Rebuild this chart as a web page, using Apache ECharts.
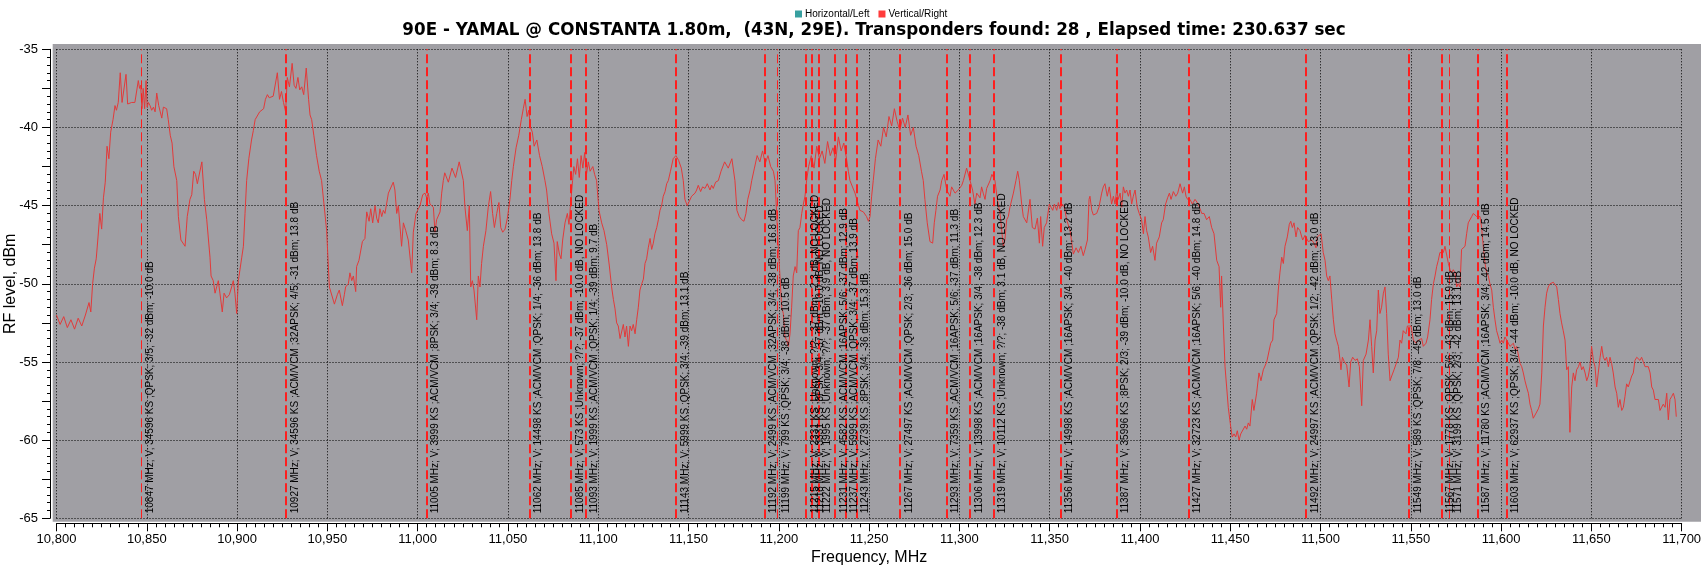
<!DOCTYPE html>
<html>
<head>
<meta charset="utf-8">
<script src="https://cdn.jsdelivr.net/npm/echarts@6/dist/echarts.min.js"></script>
<style>
html,body{margin:0;padding:0;background:#fff;}
#chart{width:1701px;height:567px;}
</style>
</head>
<body>
<div id="chart"></div>
<script>
// ---------------- DATA ----------------
const titleText = '90E - YAMAL @ CONSTANTA 1.80m,  (43N, 29E). Transponders found: 28 , Elapsed time: 230.637 sec';
const legendNames = ['Horizontal/Left', 'Vertical/Right'];
const xAxisName = 'Frequency, MHz';
const yAxisName = 'RF level, dBm';

// transponders found (vertical polarisation)
const txFreq = [10847, 10927, 11005, 11062, 11085, 11093, 11143, 11192, 11199, 11215, 11218, 11222,
  11231, 11237, 11243, 11267, 11293, 11306, 11319, 11356, 11387, 11427, 11492, 11549, 11567, 11571, 11587, 11603];
const txInfo = [
  'V; 34596 KS ;QPSK; 3/5; -32 dBm; -10.0 dB',
  'V; 34596 KS ;ACM/VCM ;32APSK; 4/5; -31 dBm; 13.8 dB',
  'V; 3999 KS ;ACM/VCM ;8PSK; 3/4; -39 dBm; 8.3 dB',
  'V; 14498 KS ;ACM/VCM ;QPSK; 1/4; -36 dBm; 13.8 dB',
  'V; 573 KS ;Unknown; ?/?; -37 dBm; -10.0 dB, NO LOCKED',
  'V; 1999 KS ;ACM/VCM ;QPSK; 1/4; -39 dBm; 9.7 dB',
  'V; 5999 KS ;QPSK; 3/4; -39 dBm; 13.1 dB',
  'V; 2499 KS ;ACM/VCM ;32APSK; 3/4; -38 dBm; 16.8 dB',
  'V; 799 KS ;QPSK; 3/4; -38 dBm; 10.5 dB',
  'V; 2331 KS ;Unknown; ?/?; -37 dBm; -2.3 dB, NO LOCKED',
  'V; 3331 KS ;8PSK; 3/4; -37 dBm; -10.0 dB, NO LOCKED',
  'V; 1995 KS ;Unknown; ?/?; -37 dBm; 3.9 dB, NO LOCKED',
  'V; 4582 KS ;ACM/VCM ;16APSK; 5/6; -37 dBm; 12.9 dB',
  'V; 5999 KS ;ACM/VCM ;QPSK; 3/4; -37 dBm; 13.9 dB',
  'V; 2739 KS ;8PSK; 3/4; -36 dBm; 15.3 dB',
  'V; 27497 KS ;ACM/VCM ;QPSK; 2/3; -36 dBm; 15.0 dB',
  'V; 7359 KS ;ACM/VCM ;16APSK; 5/6; -37 dBm; 11.3 dB',
  'V; 13998 KS ;ACM/VCM ;16APSK; 3/4; -38 dBm; 12.3 dB',
  'V; 10112 KS ;Unknown; ?/?; -38 dBm; 3.1 dB, NO LOCKED',
  'V; 14998 KS ;ACM/VCM ;16APSK; 3/4; -40 dBm; 13.2 dB',
  'V; 35996 KS ;8PSK; 2/3; -39 dBm; -10.0 dB, NO LOCKED',
  'V; 32723 KS ;ACM/VCM ;16APSK; 5/6; -40 dBm; 14.8 dB',
  'V; 24997 KS ;ACM/VCM ;QPSK; 1/2; -42 dBm; 13.0 dB',
  'V; 589 KS ;QPSK; 7/8; -45 dBm; 13.0 dB',
  'V; 1778 KS ;QPSK; 5/6; -43 dBm; 15.9 dB',
  'V; 3199 KS ;QPSK; 2/3; -42 dBm; 13.1 dB',
  'V; 11780 KS ;ACM/VCM ;16APSK; 3/4; -42 dBm; 14.5 dB',
  'V; 62937 KS ;QPSK; 3/4; -44 dBm; -10.0 dB, NO LOCKED'
];

// measured spectrum (vertical/right): [MHz, dBm]
const spectrumV = [
[10798,-52.3],[10800,-52.0],[10802,-52.6],[10804,-52.1],[10806,-52.8],[10808,-52.3],[10810,-52.9],[10812,-52.2],[10814,-52.7],[10816,-52.0],
[10818,-51.2],[10819,-51.8],[10820,-50.0],[10821,-49.0],[10822,-48.4],[10823,-47.0],[10824,-45.5],[10825,-46.5],[10826,-44.5],[10827,-43.5],
[10828,-41.2],[10829,-42.0],[10830,-40.3],[10831.3,-39.5],[10832.4,-38.6],[10833.2,-38.9],[10833.7,-39.0],[10834.2,-38.4],[10835.3,-36.5],[10836.3,-38.4],
[10837.1,-38.3],[10838.5,-36.6],[10839.4,-38.5],[10840.3,-38.5],[10841.6,-38.4],[10842.5,-38.5],[10843.4,-38.4],[10844.3,-38.5],[10845.3,-37.0],[10846,-37.5],
[10846.6,-37.3],[10847.3,-38.8],[10848,-37.5],[10848.8,-38.8],[10849.6,-37.0],[10850.2,-38.7],[10850.9,-38.4],[10851.8,-38.6],[10852.7,-38.9],[10853.7,-38.7],
[10854.6,-39.0],[10855.5,-37.8],[10856.6,-38.6],[10857.4,-38.7],[10858.3,-39.4],[10859.2,-38.7],[10861,-38.8],[10861.9,-39.5],[10863,-40.5],[10864,-41.0],
[10865,-42.5],[10866.6,-43.4],
[10867.5,-45.7],[10868.9,-47.2],[10871.2,-47.6],[10872.4,-45.7],[10873.9,-44.6],[10874.9,-44.3],[10876,-42.8],[10877,-43.0],[10878,-43.6],[10879,-43.7],
[10880.5,-42.2],[10881.9,-44.6],[10883.2,-45.9],[10885,-48.3],[10885.6,-49.5],[10886.8,-49.8],[10887.8,-50.6],[10888.7,-50.2],[10889.6,-49.8],[10890.5,-50.6],
[10891.8,-51.8],[10892.8,-50.6],[10894.2,-50.9],[10895.7,-50.7],[10897,-50.2],[10897.9,-49.8],[10898.8,-50.6],[10899.8,-51.9],[10900.7,-49.8],[10901.6,-49.1],
[10902.6,-48.3],[10903.5,-47.6],[10904.4,-45.5],[10905.3,-43.4],
[10906.5,-42.0],[10908,-40.8],[10909,-40.2],[10910,-39.5],[10912.5,-39.0],[10914.7,-38.8],[10915.7,-38.2],[10916.8,-37.9],[10917.8,-38.1],[10918.9,-38.2],
[10920,-38.0],[10921,-37.9],[10922.3,-36.5],[10923.5,-38.2],[10924.6,-37.7],[10925.7,-38.4],[10926.9,-39.0],[10927.8,-36.8],[10929,-37.4],[10930.5,-35.9],
[10931.6,-37.3],[10932.6,-37.5],[10933.7,-36.8],[10934.7,-37.6],[10935.8,-37.4],[10936.9,-37.9],[10938.3,-36.2],[10939.6,-38.2],[10940.4,-39.2],[10941.3,-39.5],
[10942.5,-40.5],[10944,-41.8],[10945.5,-42.8],[10946.8,-43.4],
[10949.6,-46.6],[10951.1,-50.2],[10953.9,-51.3],[10955.5,-50.7],[10956.6,-50.4],[10958.3,-51.4],[10959.4,-50.7],[10960.1,-50.2],[10961.6,-50.0],[10962.5,-49.3],
[10963.5,-49.8],[10964.4,-49.5],[10965.7,-50.5],[10966.2,-48.9],[10967.5,-48.5],[10969.4,-47.3],[10970.8,-47.1],[10971.8,-45.4],[10973.1,-46.0],[10974,-45.2],
[10975.1,-46.1],[10976.4,-45.0],[10977.3,-45.8],[10978.2,-46.1],[10979.1,-45.2],[10980.1,-45.7],[10981,-45.3],[10981.9,-45.5],[10983.8,-44.2],[10986.5,-43.5],
[10987.4,-44.0],[10988.4,-45.5],[10989.3,-45.0],[10991.1,-47.6],[10992.1,-46.1],[10993.4,-46.6],[10994.8,-47.2],[10996.7,-49.3],[10997.6,-46.7],[10999.1,-45.5],
[11000.4,-45.2],[11001.3,-45.0],[11002.8,-44.3],[11004.1,-44.2],[11005,-44.5],[11005.9,-44.2],[11006.8,-44.9],[11008.7,-45.1],[11009.6,-46.7],[11010.5,-45.9],
[11012.4,-45.4],[11013.3,-44.2],[11014.2,-43.4],
[11015,-42.9],[11017,-43.5],[11019,-42.6],[11021,-43.2],[11023,-42.2],[11025.3,-43.4],[11026.2,-45.1],[11027.5,-46.6],[11028.6,-45.0],[11029.4,-50.2],
[11030.3,-49.8],[11031.2,-50.4],[11032.7,-52.3],[11033.6,-49.5],[11034.5,-50.2],[11035.4,-48.7],[11036.4,-47.6],[11037.8,-46.6],[11039.1,-45.1],[11040.4,-44.1],
[11041.5,-45.5],[11042.5,-46.4],[11043.8,-45.5],[11045,-44.8],[11046,-46.4],[11047.1,-46.7],[11048.4,-46.5],[11049.7,-45.8],[11051.1,-44.6],[11052.1,-43.4],
[11053,-42.5],[11054.5,-41.3],[11056,-40.5],[11057.4,-39.5],[11058.5,-38.8],[11059.5,-38.2],[11060.6,-39.3],[11061.5,-38.9],[11062.5,-40.0],[11063.5,-40.3],
[11064.5,-41.2],[11066,-40.8],[11067.5,-41.8],[11069,-42.5],[11070.5,-43.4],[11071.4,-44.0],[11072.7,-45.5],[11073.7,-45.4],[11074.2,-46.8],[11075.5,-47.4],
[11076.6,-49.8],[11077.3,-47.3],[11078.5,-48.1],[11079.4,-48.4],[11080.3,-47.2],[11081.6,-46.1],[11082.9,-45.5],[11083.8,-46.2],[11084.7,-44.9],[11085.8,-43.4],
[11086.5,-42.5],[11087.5,-43.0],[11088.5,-42.0],[11089.5,-43.2],[11090.5,-41.8],[11091.5,-42.6],[11092.5,-41.6],[11093.5,-43.0],[11094.5,-42.2],[11095.5,-42.8],
[11097,-42.5],[11098,-43.0],[11099.1,-43.4],
[11100.4,-45.3],[11101.9,-46.1],[11103.2,-46.6],[11104.7,-47.5],[11106.1,-48.8],[11107.4,-50.2],[11108.4,-51.0],[11109.3,-51.6],[11110.2,-52.5],[11111.1,-52.7],
[11112.1,-53.5],[11113,-53.6],[11113.9,-52.6],[11114.8,-53.4],[11115.7,-52.7],[11116.7,-54.0],[11117.6,-52.7],[11118.5,-53.0],[11119.4,-52.6],[11120.4,-53.2],
[11121.3,-52.3],[11122.2,-51.5],[11123.1,-50.4],[11124.1,-50.0],[11125,-49.7],[11125.9,-48.7],[11126.8,-48.4],[11127.7,-47.7],[11128.7,-47.1],[11129.6,-47.8],
[11130.5,-47.4],[11131.4,-46.8],[11132.4,-46.4],[11133.3,-45.9],[11134.2,-45.3],[11135.1,-45.0],[11136,-44.4],[11137,-44.1],[11137.9,-43.6],[11138.8,-43.4],
[11140,-42.8],[11141.5,-42.0],[11143,-41.8],[11144.5,-42.1],[11146,-42.6],[11147.1,-43.4],[11148,-44.6],[11149.3,-45.0],[11150.4,-44.9],[11151.7,-44.4],
[11153.6,-44.2],[11154.5,-44.0],[11155.4,-43.7],[11156.7,-44.1],[11157.8,-43.8],[11159.1,-43.9],[11160.4,-43.6],[11161.9,-44.0],[11162.8,-43.7],[11163.7,-43.9],
[11165,-43.5],[11166.5,-43.4],[11168,-42.8],[11170,-42.2],[11172,-42.6],[11174,-42.0],[11175.7,-43.4],[11176.8,-45.3],[11178.1,-45.7],[11179.4,-45.9],
[11180.7,-46.0],[11181.8,-45.5],[11182.8,-44.6],[11184.1,-44.0],[11185,-43.4],[11186.5,-42.6],[11188,-41.8],[11189.5,-42.2],[11191,-41.5],[11192.5,-42.3],
[11194,-41.8],[11195.5,-42.5],[11197,-42.8],[11197.9,-43.4],
[11199.7,-47.6],[11201.6,-51.5],[11202.5,-51.9],[11203.4,-53.4],[11204.3,-53.6],[11205.3,-54.0],[11206.2,-53.2],[11207.1,-51.5],[11208,-49.5],[11209,-48.9],
[11209.9,-49.3],[11210.8,-46.6],[11211.7,-46.4],[11212.7,-45.5],[11213.6,-44.9],[11214.5,-44.4],[11215.4,-43.4],
[11216.5,-42.5],[11218,-41.8],[11219.5,-42.6],[11221,-41.2],[11222.5,-42.0],[11224,-41.5],[11225.5,-42.3],[11227,-40.9],[11228.5,-41.8],[11230,-41.3],
[11231.5,-42.1],[11233,-40.6],[11234.5,-41.5],[11236,-41.0],[11237.5,-42.0],[11238.5,-42.8],[11239.4,-43.4],
[11242.2,-44.2],[11244.9,-45.3],[11246.8,-45.4],[11248.6,-45.7],[11249.6,-46.0],[11250.5,-45.7],[11251.4,-44.4],[11252.3,-43.4],
[11253.5,-42.0],[11255,-40.8],[11256.5,-41.2],[11258,-40.0],[11259.5,-40.6],[11261,-39.3],[11262.5,-39.9],[11264,-38.8],[11265.5,-39.6],[11267,-40.2],
[11268.5,-39.4],[11270,-40.0],[11271.5,-39.2],[11273,-40.5],[11274.5,-40.0],[11276,-41.2],[11277.5,-41.8],[11279,-42.8],[11280,-43.4],
[11280.9,-44.6],[11282.2,-46.1],[11283.7,-47.3],[11285.2,-47.4],[11286.1,-46.1],[11287,-45.3],[11287.9,-44.4],[11289.3,-44.0],[11290.2,-43.4],[11291.5,-43.0],
[11293,-44.0],[11294.8,-44.4],[11295.7,-43.8],[11297.6,-44.2],[11299.4,-44.0],[11301.3,-43.7],[11302.2,-43.4],[11304,-42.6],[11305.9,-43.4],[11307.3,-44.0],
[11308.6,-44.9],[11309.6,-44.2],[11311.4,-44.5],[11312.3,-43.8],[11313.2,-44.2],[11314.2,-44.6],[11315.1,-43.9],[11317,-43.4],[11318,-43.0],[11319.7,-43.4],
[11321,-44.6],[11322.5,-45.5],[11324.3,-47.6],[11325.2,-47.2],[11326.2,-45.9],[11327.1,-45.7],[11328,-45.1],[11329.9,-44.2],[11331.3,-43.4],[11332.3,-42.8],
[11333.2,-43.4],[11334.5,-44.9],[11335.4,-45.7],[11337.3,-46.1],
[11339.1,-44.6],[11340.4,-46.4],[11341.9,-46.5],[11343.2,-45.8],[11344.3,-47.4],[11345,-45.7],[11346.1,-47.6],[11347,-46.4],[11348.3,-46.1],[11349.8,-44.9],
[11350.5,-44.8],[11351.7,-45.3],[11352.6,-44.9],[11353.9,-45.3],[11354.8,-44.8],[11355.7,-45.2],[11357,-44.9],[11358.1,-45.1],[11359.4,-45.9],[11361.3,-46.6],
[11363.1,-48.1],[11364.6,-47.7],[11365.9,-48.0],[11367.3,-47.6],[11368.6,-48.2],[11369.6,-47.8],[11370.9,-47.2],[11371.8,-44.6],[11372.3,-44.4],[11373.3,-45.3],
[11374.2,-45.6],[11376,-45.5],[11377.3,-45.1],[11378.8,-44.2],[11379.7,-43.8],[11380.6,-43.6],[11381.9,-44.4],[11383,-43.8],[11384.3,-44.9],[11385.3,-44.4],
[11386.2,-44.9],[11387.1,-44.0],[11388,-44.6],[11389,-44.2],[11389.9,-45.1],[11390.8,-43.8],[11391.7,-44.2],[11392.6,-44.0],[11393.6,-44.4],[11394.5,-44.0],
[11395.4,-44.9],[11396.3,-44.4],[11397.3,-44.0],[11398.5,-45.1],[11399.6,-45.5],[11400.9,-45.9],[11401.9,-46.8],[11402.8,-45.7],[11403.7,-46.6],[11404.6,-47.0],
[11405.9,-48.0],[11407,-47.6],[11408.3,-48.5],[11409.2,-47.4],[11410.7,-47.0],[11412,-46.1],[11412.9,-45.9],[11414.2,-44.9],[11415.3,-44.5],[11416.3,-44.2],
[11417.2,-44.6],[11418.5,-44.1],[11419.8,-44.4],[11420.9,-44.2],[11422.2,-43.6],[11423.6,-44.2],[11424.6,-43.8],[11425.5,-44.4],[11426.4,-44.6],[11427.7,-44.6],
[11429,-44.9],[11430.5,-44.6],[11432.3,-44.9],[11434.2,-45.5],[11435.5,-45.5],[11436.9,-45.9],[11438.4,-45.7],[11439.7,-46.4],[11441,-46.8],[11442.5,-48.5],
[11443.8,-48.9],[11444.7,-51.5],[11445.2,-49.5],[11446.2,-52.7],[11447.1,-55.3],[11448,-56.6],[11448.9,-57.9],[11450.2,-59.1],[11451.1,-59.8],[11452.1,-59.6],
[11453,-59.8],[11453.9,-59.4],[11454.9,-60.0],[11455.8,-59.6],[11456.7,-59.5],[11458.2,-59.1],[11459.1,-59.3],[11460,-58.9],[11460.9,-59.1],[11462.2,-57.4],
[11463.1,-58.1],[11464.6,-57.0],[11465.9,-55.7],[11467,-56.2],[11468.3,-55.5],[11470.2,-55.0],[11471.1,-54.9],[11472.4,-53.8],[11473.5,-53.6],[11474.2,-52.3],
[11475.7,-51.9],[11476.6,-50.4],[11477.5,-49.3],[11478.5,-48.3],[11479.4,-48.7],[11480.3,-47.6],[11481.6,-47.0],[11482.7,-46.2],[11483.5,-46.0],[11484.4,-46.4],
[11485.3,-46.1],[11486.4,-47.0],[11487.3,-46.4],
[11488.6,-46.6],[11490.1,-47.2],[11491.4,-46.9],[11493.2,-47.3],[11495.1,-47.2],[11496.4,-47.4],[11497.5,-47.7],[11498.2,-47.0],[11499.3,-47.1],[11500.3,-46.8],
[11501.5,-48.0],[11502.5,-48.5],[11503.4,-49.5],[11504.3,-49.8],[11505.2,-49.5],[11506.2,-51.0],[11507.1,-52.3],[11508,-53.2],[11508.9,-53.6],[11509.9,-54.0],
[11510.8,-54.9],[11511.3,-55.5],[11512.1,-54.7],[11513.2,-55.0],[11514.5,-55.2],[11515.8,-56.6],[11516.7,-55.0],[11517.8,-54.7],[11519.1,-54.9],[11520.4,-54.8],
[11521.5,-55.3],[11522.8,-57.8],[11523.7,-54.9],[11525.2,-54.5],[11526.5,-53.6],[11527.4,-52.3],[11528.3,-54.0],[11529.2,-55.7],[11530.2,-53.6],[11531.1,-53.0],
[11532,-50.4],[11532.9,-51.9],[11533.8,-51.5],[11534.8,-50.6],[11535.7,-50.2],[11536.6,-51.9],[11537.5,-54.5],[11538.5,-56.2],[11539.4,-55.9],[11540.7,-55.5],
[11542.2,-55.0],[11543.1,-54.7],[11544,-53.6],[11544.9,-53.8],[11545.8,-53.0],[11547.3,-53.2],[11548.1,-52.7],[11550.1,-52.7],[11551.4,-53.6],[11552.9,-53.8],
[11554.2,-53.6],[11556,-53.5],[11556.9,-54.0],[11558.4,-53.8],[11559.3,-53.4],[11560.6,-52.3],[11561.5,-51.0],[11562.5,-50.0],[11563.4,-49.5],[11564.3,-48.9],
[11565.2,-48.5],[11566.1,-48.0],[11567.1,-48.1],[11568,-48.0],[11568.9,-47.6],[11569.8,-47.7],[11570.8,-48.7],[11571.7,-49.1],[11572.6,-49.3],[11573.5,-49.1],
[11574.5,-49.3],[11575.4,-50.2],[11576.3,-50.0],[11577.2,-50.2],[11578.1,-47.8],[11579.1,-47.8],[11580,-47.6],[11580.9,-46.8],[11581.8,-46.1],[11582.8,-46.1],
[11583.7,-45.7],[11584.6,-45.5],[11585.5,-45.5],[11586.5,-45.7],[11587.4,-45.7],[11588.3,-45.7],[11589.2,-46.4],[11590.1,-47.6],[11591.1,-48.7],[11592,-49.3],
[11592.9,-49.5],[11593.8,-50.0],[11594.8,-50.4],[11595.7,-51.5],[11596.6,-52.3],[11597.5,-53.0],[11598.5,-53.4],[11599.4,-53.8],[11600.3,-53.6],[11601.2,-53.8],
[11602.1,-53.4],[11603.1,-53.6],[11604,-53.8],[11604.9,-54.0],[11605.8,-53.9],[11606.8,-53.8],[11607.7,-54.2],[11608.6,-54.0],[11609.5,-54.1],[11610.5,-55.1],
[11611.4,-55.3],[11612.3,-55.7],[11613.2,-56.2],[11614.1,-56.6],[11615.1,-57.0],[11616,-57.7],[11616.9,-58.1],[11617.8,-58.6],[11618.8,-58.5],[11619.7,-58.2],
[11620.6,-58.0],[11621.5,-57.7],[11622.5,-55.7],[11623.4,-52.7],[11624.3,-51.5],[11625.2,-50.6],[11626.1,-50.2],[11627.1,-50.0],[11628.9,-49.9],[11629.8,-49.8],
[11630.8,-50.2],[11631.7,-51.0],[11632.6,-51.9],[11633.5,-52.5],[11634.4,-53.0],[11635.4,-53.6],[11636.3,-55.5],[11637.2,-55.3],[11638.1,-59.5],[11639.1,-56.6],
[11640,-55.7],[11640.9,-56.2],[11641.8,-55.5],[11642.8,-55.3],[11643.7,-55.0],[11644.6,-55.5],[11645.5,-55.3],[11646.5,-55.7],[11647.4,-56.2],[11648.3,-55.9],
[11649.2,-55.3],[11650.1,-54.0],[11651.1,-54.9],[11652,-55.3],[11652.9,-56.6],[11653.8,-55.7],[11654.8,-54.7],[11655.7,-54.0],[11656.6,-54.7],[11657.5,-54.9],
[11658.4,-54.7],[11659.4,-55.3],[11660.3,-54.7],[11661.2,-55.1],[11662.1,-55.7],[11663.1,-56.6],[11664,-57.0],[11664.9,-57.9],[11665.8,-57.4],[11666.8,-58.1],
[11667.7,-57.9],[11668.6,-57.2],[11669.5,-56.4],[11670.4,-56.6],[11671.4,-56.6],[11672.3,-55.9],[11673.2,-55.7],[11674.1,-54.9],[11675.1,-54.7],[11676,-54.7],
[11676.9,-54.9],[11677.8,-54.7],[11678.8,-54.7],[11679.7,-55.3],[11680.6,-55.4],[11681.5,-55.3],[11682.5,-55.7],[11683.4,-56.6],[11684.3,-56.8],[11685.2,-57.4],
[11686.2,-57.3],[11687.1,-57.4],[11688,-58.1],[11688.9,-57.9],[11689.8,-57.7],[11690.8,-57.9],[11691.7,-57.0],[11692.6,-58.7],[11693.5,-57.4],[11694.5,-57.2],
[11695.4,-57.0],[11696.3,-57.4],[11697,-58.5]
];
const spectrumH = []; // no horizontal scan shown

// ---------------- STYLE ----------------
const FONT = "'Liberation Sans', Arial, sans-serif";
const thinMarkers = new Set([10847, 11199, 11571]);

const chart = echarts.init(document.getElementById('chart'), null, {renderer: 'canvas'});

const markData = txFreq.map((f, i) => ({
  xAxis: f,
  lineStyle: {width: thinMarkers.has(f) ? 1 : 2},
  label: {formatter: f + ' MHz; ' + txInfo[i]}
}));

const option = {
  animation: false,
  backgroundColor: '#ffffff',
  title: {
    text: titleText,
    left: 874,
    top: 22,
    textAlign: 'center',
    padding: 0,
    textStyle: {fontFamily: "'DejaVu Sans', Verdana, sans-serif", fontWeight: 'bold', fontSize: 16.75, color: '#000'}
  },
  legend: {
    data: legendNames,
    left: 790,
    top: 4,
    icon: 'rect',
    itemWidth: 7,
    itemHeight: 7,
    itemGap: 9,
    textStyle: {fontFamily: FONT, fontSize: 10, color: '#000', padding: [0, 0, 0, -2]}
  },
  graphic: [{
    type: 'rect',
    z: -10,
    shape: {x: 52.7, y: 44, width: 1701 - 52.7, height: 521.7 - 44},
    style: {fill: '#a09fa4'},
    silent: true
  }],
  grid: {left: 56.5, right: 19.3, top: 49.3, bottom: 48.7, containLabel: false, outerBoundsMode: 'none'},
  xAxis: {
    type: 'value',
    min: 10800, max: 11700, interval: 50,
    offset: 5,
    name: xAxisName,
    nameLocation: 'middle',
    nameGap: 26,
    nameMoveOverlap: false,
    nameTextStyle: {fontFamily: FONT, fontSize: 16, color: '#000'},
    axisLine: {show: true, onZero: false, lineStyle: {color: '#000', width: 1}},
    axisTick: {show: true, length: 8, lineStyle: {color: '#000'}},
    minorTick: {show: true, splitNumber: 10, length: 4, lineStyle: {color: '#000'}},
    axisLabel: {
      margin: 10, fontFamily: FONT, fontSize: 13, color: '#000',
      formatter: v => v.toLocaleString('en-US')
    },
    splitLine: {show: true, lineStyle: {color: '#000', width: 1, type: [1, 2]}},
    minorSplitLine: {show: false}
  },
  yAxis: [{
    type: 'value',
    min: -65, max: -35, interval: 5,
    offset: 6.5,
    position: 'left',
    name: yAxisName,
    nameLocation: 'middle',
    nameGap: 31,
    nameMoveOverlap: false,
    nameTextStyle: {fontFamily: FONT, fontSize: 16, color: '#000'},
    axisLine: {show: true, onZero: false, lineStyle: {color: '#000', width: 1}},
    axisTick: {show: true, length: 8, lineStyle: {color: '#000'}},
    minorTick: {show: true, splitNumber: 10, length: 3, lineStyle: {color: '#000'}},
    axisLabel: {margin: 12, fontFamily: FONT, fontSize: 13, color: '#000', formatter: v => String(v)},
    splitLine: {show: true, lineStyle: {color: '#000', width: 1, type: [1, 2]}}
  }, {
    type: 'value',
    min: -65, max: -35, interval: 2.5,
    offset: 6.5,
    position: 'left',
    axisLine: {show: false},
    axisTick: {show: true, length: 8, lineStyle: {color: '#000'}},
    axisLabel: {show: false},
    splitLine: {show: false}
  }],
  series: [{
    name: legendNames[0],
    type: 'line',
    data: spectrumH,
    color: '#38a0a0',
    symbol: 'none'
  }, {
    name: legendNames[1],
    type: 'line',
    data: spectrumV,
    color: '#ff3b3b',
    symbol: 'none',
    lineStyle: {color: '#e23a3a', width: 1},
    emphasis: {disabled: true},
    markLine: {
      silent: true,
      symbol: ['none', 'none'],
      animation: false,
      lineStyle: {color: '#ff1e1e', type: [9, 4], width: 2},
      label: {
        show: true,
        position: 'insideStartBottom',
        distance: [5, 4],
        color: '#000',
        fontFamily: FONT,
        fontSize: 10
      },
      emphasis: {disabled: true},
      data: markData
    }
  }]
};
chart.setOption(option);
</script>
</body>
</html>
